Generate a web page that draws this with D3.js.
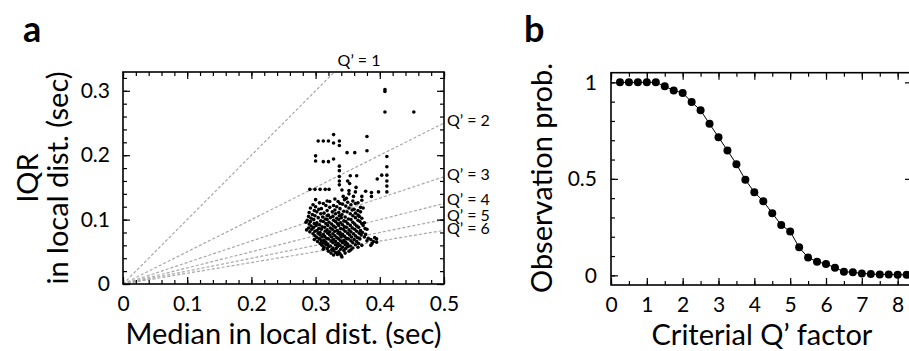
<!DOCTYPE html>
<html>
<head>
<meta charset="utf-8">
<script src="https://cdn.jsdelivr.net/npm/d3@7"></script>
<style>
  body { margin: 0; background: #fff; }
  text { font-family: Lato, "Open Sans", sans-serif; fill: #000; }
</style>
</head>
<body>
<svg id="chart" width="909" height="351"></svg>
<script>
// ---- panel a: IQR vs median of local distribution (sec) ----
const scatterPts = [
  // sparse upper points
  [0.408,0.302],[0.408,0.299],[0.408,0.267],[0.453,0.267],[0.328,0.232],[0.380,0.229],
  [0.304,0.222],[0.312,0.222],[0.320,0.222],[0.328,0.219],[0.337,0.222],[0.337,0.215],
  [0.349,0.204],[0.361,0.204],[0.380,0.207],[0.300,0.199],[0.300,0.191],[0.312,0.190],
  [0.320,0.190],[0.328,0.194],[0.337,0.183],[0.337,0.176],[0.411,0.198],[0.411,0.182],
  [0.337,0.167],[0.337,0.160],[0.337,0.154],[0.354,0.168],[0.364,0.168],[0.350,0.160],
  [0.353,0.156],[0.363,0.150],[0.352,0.145],[0.362,0.143],[0.352,0.140],
  [0.396,0.163],[0.403,0.169],[0.411,0.169],[0.411,0.160],[0.411,0.152],[0.411,0.143],
  [0.291,0.147],[0.299,0.147],[0.307,0.147],[0.315,0.147],[0.321,0.147],
  [0.378,0.144],[0.387,0.142],[0.387,0.136],[0.398,0.143],[0.372,0.136],[0.359,0.136],
  [0.341,0.146],[0.343,0.136],[0.348,0.133],
  // dense cluster
  [0.300,0.131],[0.318,0.129],[0.330,0.132],[0.335,0.128],[0.345,0.131],[0.358,0.129],[0.372,0.130],
  [0.306,0.126],[0.322,0.128],[0.338,0.125],[0.350,0.127],[0.366,0.126],
  [0.296,0.123],[0.312,0.125],[0.328,0.122],[0.342,0.124],[0.355,0.123],[0.362,0.125],
  [0.300,0.120],[0.316,0.122],[0.333,0.120],[0.347,0.121],[0.370,0.119],
  [0.292,0.118],[0.309,0.117],[0.322,0.119],[0.338,0.117],[0.352,0.118],[0.360,0.116],[0.374,0.118],
  [0.298,0.114],[0.305,0.116],[0.318,0.114],[0.330,0.115],[0.344,0.113],[0.357,0.115],[0.366,0.114],
  [0.290,0.111],[0.302,0.112],[0.313,0.110],[0.326,0.112],[0.336,0.111],[0.349,0.112],[0.362,0.110],[0.370,0.112],
  [0.295,0.108],[0.308,0.109],[0.320,0.107],[0.331,0.109],[0.341,0.108],[0.354,0.109],[0.366,0.107],
  [0.289,0.105],[0.299,0.106],[0.311,0.104],[0.318,0.106],[0.327,0.105],[0.337,0.106],[0.346,0.104],[0.358,0.106],[0.368,0.105],
  [0.293,0.102],[0.304,0.103],[0.315,0.101],[0.323,0.103],[0.333,0.102],[0.340,0.103],[0.351,0.101],[0.362,0.103],[0.372,0.102],
  [0.287,0.099],[0.297,0.100],[0.308,0.098],[0.318,0.100],[0.328,0.099],[0.336,0.100],[0.344,0.098],[0.355,0.100],[0.366,0.099],
  [0.285,0.096],[0.292,0.097],[0.302,0.095],[0.312,0.097],[0.321,0.096],[0.331,0.097],[0.339,0.095],[0.347,0.097],[0.358,0.096],[0.369,0.097],[0.376,0.095],
  [0.290,0.093],[0.298,0.094],[0.306,0.092],[0.316,0.094],[0.325,0.093],[0.334,0.094],[0.342,0.092],[0.350,0.094],[0.361,0.093],[0.372,0.094],
  [0.293,0.090],[0.301,0.091],[0.310,0.089],[0.319,0.091],[0.328,0.090],[0.336,0.091],[0.345,0.089],[0.354,0.091],[0.364,0.090],[0.374,0.091],
  [0.289,0.087],[0.297,0.088],[0.305,0.086],[0.314,0.088],[0.323,0.087],[0.331,0.088],[0.339,0.086],[0.348,0.088],[0.357,0.087],[0.367,0.088],[0.377,0.086],
  [0.286,0.084],[0.294,0.085],[0.302,0.083],[0.309,0.085],[0.318,0.084],[0.326,0.085],[0.334,0.083],[0.343,0.085],[0.352,0.084],[0.361,0.085],[0.370,0.083],[0.380,0.085],
  [0.291,0.081],[0.299,0.082],[0.307,0.080],[0.315,0.082],[0.322,0.081],[0.330,0.082],[0.338,0.080],[0.346,0.082],[0.355,0.081],[0.364,0.082],[0.373,0.080],
  [0.296,0.078],[0.304,0.079],[0.312,0.077],[0.319,0.079],[0.327,0.078],[0.335,0.079],[0.342,0.077],[0.350,0.079],[0.359,0.078],[0.368,0.079],[0.378,0.077],
  [0.299,0.075],[0.307,0.076],[0.314,0.074],[0.322,0.076],[0.330,0.075],[0.338,0.076],[0.345,0.074],[0.353,0.076],[0.362,0.075],[0.371,0.076],
  [0.302,0.072],[0.310,0.073],[0.317,0.071],[0.325,0.073],[0.333,0.072],[0.340,0.073],[0.348,0.071],[0.356,0.073],[0.365,0.072],[0.376,0.073],[0.382,0.071],[0.392,0.072],
  [0.298,0.069],[0.306,0.070],[0.313,0.068],[0.320,0.070],[0.328,0.069],[0.336,0.070],[0.344,0.068],[0.351,0.070],[0.360,0.069],[0.369,0.070],[0.386,0.069],[0.395,0.070],
  [0.303,0.066],[0.309,0.067],[0.316,0.065],[0.324,0.067],[0.331,0.066],[0.339,0.067],[0.347,0.065],[0.355,0.067],[0.364,0.066],[0.380,0.067],[0.390,0.066],[0.395,0.065],
  [0.307,0.063],[0.312,0.064],[0.319,0.062],[0.327,0.064],[0.335,0.063],[0.342,0.064],[0.350,0.062],[0.358,0.064],[0.367,0.063],[0.388,0.063],
  [0.310,0.060],[0.316,0.061],[0.323,0.059],[0.331,0.061],[0.338,0.060],[0.346,0.061],[0.354,0.059],[0.362,0.061],[0.372,0.060],[0.386,0.060],
  [0.313,0.057],[0.320,0.058],[0.327,0.056],[0.334,0.058],[0.342,0.057],[0.350,0.058],[0.358,0.056],[0.366,0.057],
  [0.312,0.054],[0.318,0.055],[0.325,0.053],[0.332,0.055],[0.339,0.054],[0.347,0.055],[0.355,0.053],
  [0.320,0.051],[0.328,0.052],[0.336,0.050],[0.344,0.052],[0.352,0.051],
  [0.324,0.048],[0.331,0.049],[0.338,0.047],[0.346,0.048],
  [0.328,0.045],[0.334,0.046],[0.340,0.044],[0.341,0.042]
];
const qLines = [1, 2, 3, 4, 5, 6];
const qLabelNudge = [0, -1, -1, -3, -3, 0];
const xTicksA = [0, 0.1, 0.2, 0.3, 0.4, 0.5];
const yTicksA = [0, 0.1, 0.2, 0.3];

// ---- panel b: observation probability vs criterial Q' ----
const qFactor = [0.25,0.5,0.75,1,1.25,1.5,1.75,2,2.25,2.5,2.75,3,3.25,3.5,3.75,4,4.25,4.5,4.75,5,
                 5.25,5.5,5.75,6,6.25,6.5,6.75,7,7.25,7.5,7.75,8,8.25];
const obsProb = [1,1,1,1,1,0.98,0.958,0.945,0.898,0.855,0.785,0.716,0.647,0.576,0.495,0.431,0.384,
                 0.322,0.261,0.227,0.145,0.092,0.071,0.059,0.040,0.019,0.016,0.010,0.007,0.005,0.005,0.003,0.003];
const xTicksB = [0, 1, 2, 3, 4, 5, 6, 7, 8];
const yTicksB = [0, 0.5, 1];

const svg = d3.select('#chart');

// inward ticks on all four sides, labels only on bottom/left
function frameAxes(g, x, y, o) {
  const [x0, x1] = x.range(), [y0, y1] = y.range();
  const mk = (axis, vals, len) => axis.tickValues(vals).tickSize(-len).tickFormat('');
  const put = (axis, tx, ty) => {
    const a = g.append('g').attr('transform', `translate(${tx},${ty})`).call(axis);
    a.select('.domain').remove();
    a.selectAll('line').attr('stroke', '#000').attr('stroke-width', 1.2);
    return a;
  };
  put(mk(d3.axisBottom(x), o.xMinor, 4), 0, y0);
  put(mk(d3.axisBottom(x), o.xMajor, 7), 0, y0);
  put(mk(d3.axisTop(x), o.xMinor, 4), 0, y1);
  put(mk(d3.axisTop(x), o.xMajor, 7), 0, y1);
  put(mk(d3.axisLeft(y), o.yMinor, 4), x0, 0);
  put(mk(d3.axisLeft(y), o.yMajor, 7), x0, 0);
  if (o.rightMinor) put(mk(d3.axisRight(y), o.yMinor, 4), x1, 0);
  put(mk(d3.axisRight(y), o.yMajor, 7), x1, 0);

  const bl = put(d3.axisBottom(x).tickValues(o.xMajor).tickSize(0).tickPadding(12).tickFormat(o.xFmt), 0, y0);
  bl.selectAll('text').style('font-size', '21px').attr('fill', '#000');
  const ll = put(d3.axisLeft(y).tickValues(o.yMajor).tickSize(0).tickPadding(o.yPad).tickFormat(o.yFmt), x0, 0);
  ll.selectAll('text').style('font-size', '21px').attr('fill', '#000');

  g.append('rect')
    .attr('x', x0).attr('y', y1).attr('width', x1 - x0).attr('height', y0 - y1)
    .attr('fill', 'none').attr('stroke', '#000').attr('stroke-width', 1.6);
}

const fmt = d => d === 0 ? '0' : d3.format('.1f')(d);
const rangeStep = (a, b, s) => d3.range(Math.round((b - a) / s) + 1).map(i => +(a + i * s).toFixed(4));

// ================= panel a =================
const xA = d3.scaleLinear().domain([0, 0.5]).range([123, 444]);
const yA = d3.scaleLinear().domain([0, 0.3292]).range([284, 72]);
const gA = svg.append('g');

gA.append('g').selectAll('line')
  .data(qLines)
  .join('line')
  .attr('x1', xA(0)).attr('y1', yA(0))
  .attr('x2', q => xA(Math.min(0.5, q * yA.domain()[1])))
  .attr('y2', q => yA(Math.min(0.5, q * yA.domain()[1]) / q))
  .attr('stroke', '#a8a8a8').attr('stroke-width', 1.2).attr('stroke-dasharray', '3,2');

gA.append('g').selectAll('circle')
  .data(scatterPts)
  .join('circle')
  .attr('cx', d => xA(d[0]))
  .attr('cy', d => yA(d[1]))
  .attr('r', 1.8)
  .attr('fill', '#000');

frameAxes(gA, xA, yA, {
  xMajor: xTicksA, xMinor: rangeStep(0, 0.5, 0.02),
  yMajor: yTicksA, yMinor: rangeStep(0, 0.32, 0.02),
  xFmt: fmt, yFmt: fmt, yPad: 13, rightMinor: true
});

// Q' labels
gA.append('g').selectAll('text')
  .data(qLines)
  .join('text')
  .attr('x', q => q === 1 ? 359 : 447)
  .attr('y', (q, i) => q === 1 ? 66 : yA(0.5 / q) + qLabelNudge[i])
  .attr('text-anchor', q => q === 1 ? 'middle' : 'start')
  .attr('dominant-baseline', q => q === 1 ? 'auto' : 'middle')
  .style('font-size', '16px')
  .text(q => `Q\u2019 = ${q}`);

gA.append('text').attr('x', 283.5).attr('y', 344).attr('text-anchor', 'middle')
  .style('font-size', '29px').text('Median in local dist. (sec)');
gA.append('text').attr('transform', 'translate(38,178) rotate(-90)').attr('text-anchor', 'middle')
  .style('font-size', '29px').text('IQR');
gA.append('text').attr('transform', 'translate(68,178) rotate(-90)').attr('text-anchor', 'middle')
  .style('font-size', '29px').text('in local dist. (sec)');
gA.append('text').attr('x', 23).attr('y', 42).style('font-size', '36px').style('font-weight', 'bold').text('a');

// ================= panel b =================
const xB = d3.scaleLinear().domain([0, 8.4]).range([611, 912]);
const yB = d3.scaleLinear().domain([-0.05, 1.05]).range([285, 72.7]);
const gB = svg.append('g');

frameAxes(gB, xB, yB, {
  xMajor: xTicksB, xMinor: rangeStep(0, 8, 0.5),
  yMajor: yTicksB, yMinor: rangeStep(0, 1, 0.1),
  xFmt: d3.format('d'), yFmt: d => d === 0 || d === 1 ? String(d) : '0.5', yPad: 14, rightMinor: false
});

const probPts = qFactor.map((q, i) => [q, obsProb[i]]);
gB.append('path')
  .datum(probPts)
  .attr('d', d3.line().x(d => xB(d[0])).y(d => yB(d[1])))
  .attr('fill', 'none').attr('stroke', '#000').attr('stroke-width', 1);
gB.append('g').selectAll('circle')
  .data(probPts)
  .join('circle')
  .attr('cx', d => xB(d[0]))
  .attr('cy', d => yB(d[1]))
  .attr('r', 4)
  .attr('fill', '#000');

gB.append('text').attr('x', 762).attr('y', 345).attr('text-anchor', 'middle')
  .style('font-size', '29px').text('Criterial Q\u2019 factor');
gB.append('text').attr('transform', 'translate(552,178) rotate(-90)').attr('text-anchor', 'middle')
  .style('font-size', '29px').text('Observation prob.');
gB.append('text').attr('x', 524).attr('y', 42).style('font-size', '36px').style('font-weight', 'bold').text('b');
</script>
</body>
</html>
